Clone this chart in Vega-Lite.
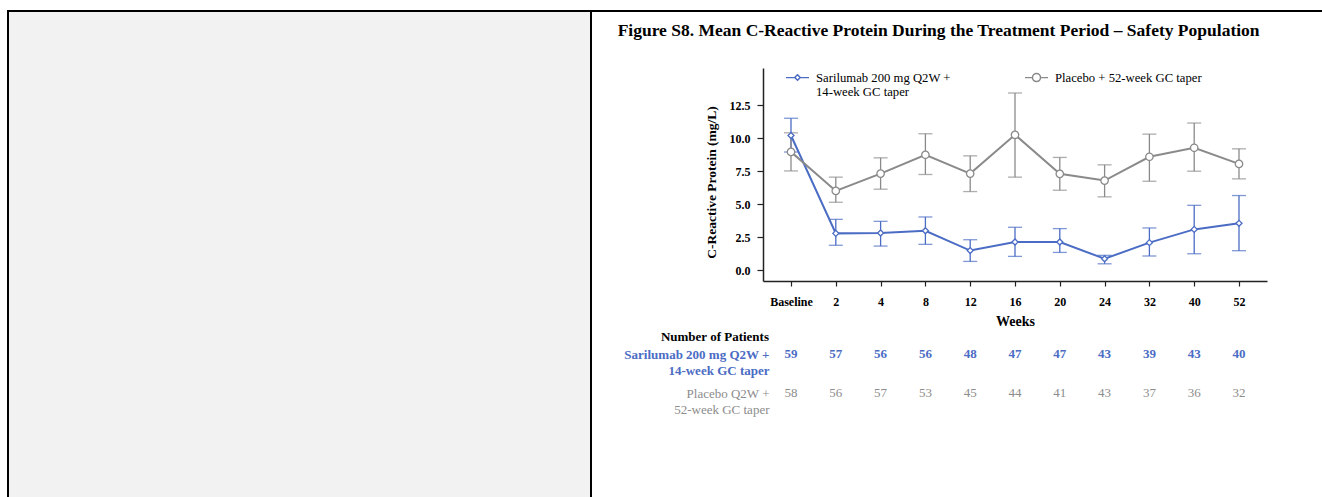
{
  "$schema": "https://vega.github.io/schema/vega-lite/v6.json",
  "padding": {"left": 7, "top": 10, "right": 0, "bottom": 0},
  "background": "white",
  "config": {
    "font": "Liberation Serif",
    "view": {"stroke": null},
    "concat": {"spacing": 0}
  },
  "datasets": {
    "crp": [
      {"visit": "Baseline", "group": "Sarilumab 200 mg Q2W +|14-week GC taper", "mean": 10.2, "lo": 8.95, "hi": 11.5},
      {"visit": "2", "group": "Sarilumab 200 mg Q2W +|14-week GC taper", "mean": 2.8, "lo": 1.9, "hi": 3.86},
      {"visit": "4", "group": "Sarilumab 200 mg Q2W +|14-week GC taper", "mean": 2.83, "lo": 1.84, "hi": 3.71},
      {"visit": "8", "group": "Sarilumab 200 mg Q2W +|14-week GC taper", "mean": 3.0, "lo": 1.97, "hi": 4.04},
      {"visit": "12", "group": "Sarilumab 200 mg Q2W +|14-week GC taper", "mean": 1.5, "lo": 0.68, "hi": 2.32},
      {"visit": "16", "group": "Sarilumab 200 mg Q2W +|14-week GC taper", "mean": 2.15, "lo": 1.06, "hi": 3.26},
      {"visit": "20", "group": "Sarilumab 200 mg Q2W +|14-week GC taper", "mean": 2.15, "lo": 1.36, "hi": 3.16},
      {"visit": "24", "group": "Sarilumab 200 mg Q2W +|14-week GC taper", "mean": 0.88, "lo": 0.5, "hi": 1.14},
      {"visit": "32", "group": "Sarilumab 200 mg Q2W +|14-week GC taper", "mean": 2.1, "lo": 1.09, "hi": 3.21},
      {"visit": "40", "group": "Sarilumab 200 mg Q2W +|14-week GC taper", "mean": 3.1, "lo": 1.26, "hi": 4.92},
      {"visit": "52", "group": "Sarilumab 200 mg Q2W +|14-week GC taper", "mean": 3.56, "lo": 1.49, "hi": 5.66},
      {"visit": "Baseline", "group": "Placebo + 52-week GC taper", "mean": 8.96, "lo": 7.52, "hi": 10.4},
      {"visit": "2", "group": "Placebo + 52-week GC taper", "mean": 6.01, "lo": 5.15, "hi": 7.05},
      {"visit": "4", "group": "Placebo + 52-week GC taper", "mean": 7.32, "lo": 6.14, "hi": 8.51},
      {"visit": "8", "group": "Placebo + 52-week GC taper", "mean": 8.74, "lo": 7.25, "hi": 10.33},
      {"visit": "12", "group": "Placebo + 52-week GC taper", "mean": 7.32, "lo": 5.96, "hi": 8.66},
      {"visit": "16", "group": "Placebo + 52-week GC taper", "mean": 10.25, "lo": 7.05, "hi": 13.41},
      {"visit": "20", "group": "Placebo + 52-week GC taper", "mean": 7.3, "lo": 6.06, "hi": 8.54},
      {"visit": "24", "group": "Placebo + 52-week GC taper", "mean": 6.79, "lo": 5.56, "hi": 7.98},
      {"visit": "32", "group": "Placebo + 52-week GC taper", "mean": 8.59, "lo": 6.74, "hi": 10.3},
      {"visit": "40", "group": "Placebo + 52-week GC taper", "mean": 9.27, "lo": 7.5, "hi": 11.14},
      {"visit": "52", "group": "Placebo + 52-week GC taper", "mean": 8.05, "lo": 6.92, "hi": 9.19}
    ],
    "npat": [
      {"visit": "Baseline", "arm": "Sarilumab 200 mg Q2W +|14-week GC taper", "n": 59},
      {"visit": "2", "arm": "Sarilumab 200 mg Q2W +|14-week GC taper", "n": 57},
      {"visit": "4", "arm": "Sarilumab 200 mg Q2W +|14-week GC taper", "n": 56},
      {"visit": "8", "arm": "Sarilumab 200 mg Q2W +|14-week GC taper", "n": 56},
      {"visit": "12", "arm": "Sarilumab 200 mg Q2W +|14-week GC taper", "n": 48},
      {"visit": "16", "arm": "Sarilumab 200 mg Q2W +|14-week GC taper", "n": 47},
      {"visit": "20", "arm": "Sarilumab 200 mg Q2W +|14-week GC taper", "n": 47},
      {"visit": "24", "arm": "Sarilumab 200 mg Q2W +|14-week GC taper", "n": 43},
      {"visit": "32", "arm": "Sarilumab 200 mg Q2W +|14-week GC taper", "n": 39},
      {"visit": "40", "arm": "Sarilumab 200 mg Q2W +|14-week GC taper", "n": 43},
      {"visit": "52", "arm": "Sarilumab 200 mg Q2W +|14-week GC taper", "n": 40},
      {"visit": "Baseline", "arm": "Placebo Q2W +|52-week GC taper", "n": 58},
      {"visit": "2", "arm": "Placebo Q2W +|52-week GC taper", "n": 56},
      {"visit": "4", "arm": "Placebo Q2W +|52-week GC taper", "n": 57},
      {"visit": "8", "arm": "Placebo Q2W +|52-week GC taper", "n": 53},
      {"visit": "12", "arm": "Placebo Q2W +|52-week GC taper", "n": 45},
      {"visit": "16", "arm": "Placebo Q2W +|52-week GC taper", "n": 44},
      {"visit": "20", "arm": "Placebo Q2W +|52-week GC taper", "n": 41},
      {"visit": "24", "arm": "Placebo Q2W +|52-week GC taper", "n": 43},
      {"visit": "32", "arm": "Placebo Q2W +|52-week GC taper", "n": 37},
      {"visit": "40", "arm": "Placebo Q2W +|52-week GC taper", "n": 36},
      {"visit": "52", "arm": "Placebo Q2W +|52-week GC taper", "n": 32}
    ]
  },
  "vconcat": [
    {"width": 1315, "height": 2, "data": {"values": []}, "mark": "point", "view": {"fill": "black", "stroke": null}},
    {
      "hconcat": [
        {
          "hconcat": [
            {"width": 2, "height": 485, "data": {"values": []}, "mark": "point", "view": {"fill": "black", "stroke": null}},
            {"width": 581, "height": 485, "data": {"values": []}, "mark": "point", "view": {"fill": "#f2f2f2", "stroke": null}},
            {"width": 2, "height": 485, "data": {"values": []}, "mark": "point", "view": {"fill": "black", "stroke": null}}
          ],
          "spacing": 0
        },
        {
          "vconcat": [
            {"width": 1, "height": 1, "data": {"values": []}, "mark": "point"},
            {
              "title": {"text": "Figure S8. Mean C-Reactive Protein During the Treatment Period – Safety Population", "anchor": "start", "fontSize": 17.5, "fontWeight": "bold", "font": "Liberation Serif", "color": "black", "dx": -6, "offset": 29},
              "vconcat": [
                {
                  "width": 504,
                  "height": 213,
                  "data": {"name": "crp"},
                  "encoding": {
                    "x": {"field": "visit", "type": "nominal", "sort": ["Baseline", "2", "4", "8", "12", "16", "20", "24", "32", "40", "52"], "scale": {"type": "point", "padding": 0.625}, "title": "Weeks",
                      "axis": {"labelAngle": 0, "labelFontWeight": "bold", "labelFontSize": 12, "labelColor": "black", "tickColor": "#222", "domainColor": "#222", "domainWidth": 1.5, "tickSize": 5, "tickWidth": 1.2, "labelPadding": 10, "titleFontSize": 14, "titleFontWeight": "bold", "titleColor": "black", "titlePadding": 7}}
                  },
                  "layer": [
                    {
                      "mark": {"type": "rule", "strokeWidth": 1.3},
                      "encoding": {
                        "y": {"field": "lo", "type": "quantitative", "title": "C-Reactive Protein (mg/L)", "scale": {"domain": [-0.8, 15.3], "nice": false, "zero": false},
                          "axis": {"values": [0, 2.5, 5, 7.5, 10, 12.5], "format": ".1f", "grid": false, "labelFontWeight": "bold", "labelFontSize": 12, "labelColor": "black", "tickColor": "#222", "domainColor": "#222", "domainWidth": 1.5, "tickSize": 6, "tickWidth": 1.2, "labelPadding": 7, "titleFontSize": 13.5, "titleFontWeight": "bold", "titleColor": "black", "titlePadding": 11, "titleY": 114}},
                        "y2": {"field": "hi"},
                        "color": {"field": "group", "type": "nominal", "scale": {"domain": ["Sarilumab 200 mg Q2W +|14-week GC taper", "Placebo + 52-week GC taper"], "range": ["#4b6cc4", "#8a8a8a"]},
                          "legend": {"title": null, "orient": "none", "legendX": 778, "legendY": 55, "direction": "horizontal", "columnPadding": 71, "labelExpr": "indexof(datum.label, '|') >= 0 ? split(datum.label, '|') : [datum.label, ' ']", "labelFontSize": 12.7, "labelFont": "Liberation Serif", "labelColor": "black", "labelLimit": 300, "labelOffset": 6, "symbolSize": 529, "symbolStrokeWidth": 1.3,
                            "encode": {"symbols": {
                              "update": {"shape": {"signal": "indexof(datum.value, 'Sarilumab') >= 0 ? 'M-1,0H-0.25M0.25,0H1M-0.25,0L0,-0.25L0.25,0L0,0.25ZM-0.23,0L0,0.23L0.23,0L0,-0.23Z' : 'M-1,0H-0.36M0.36,0H1M0.36,0A0.36,0.36,0,1,1,-0.36,0A0.36,0.36,0,1,1,0.36,0ZM0.34,0A0.34,0.34,0,1,0,-0.34,0A0.34,0.34,0,1,0,0.34,0Z'"}, "strokeWidth": {"value": 1.3}}}}}}
                      }
                    },
                    {
                      "mark": {"type": "tick", "thickness": 1.3, "size": 14},
                      "encoding": {"y": {"field": "lo", "type": "quantitative", "title": "C-Reactive Protein (mg/L)"}, "color": {"field": "group", "type": "nominal"}}
                    },
                    {
                      "mark": {"type": "tick", "thickness": 1.3, "size": 14},
                      "encoding": {"y": {"field": "hi", "type": "quantitative", "title": "C-Reactive Protein (mg/L)"}, "color": {"field": "group", "type": "nominal"}}
                    },
                    {
                      "mark": {"type": "line", "strokeWidth": 2},
                      "encoding": {"y": {"field": "mean", "type": "quantitative", "title": "C-Reactive Protein (mg/L)"}, "color": {"field": "group", "type": "nominal"}}
                    },
                    {
                      "transform": [{"filter": "indexof(datum.group, 'Sarilumab') >= 0"}],
                      "mark": {"type": "point", "shape": "diamond", "size": 36, "fill": "white", "stroke": "#4b6cc4", "strokeWidth": 1.3, "opacity": 1},
                      "encoding": {"y": {"field": "mean", "type": "quantitative", "title": "C-Reactive Protein (mg/L)"}}
                    },
                    {
                      "transform": [{"filter": "indexof(datum.group, 'Placebo') >= 0"}],
                      "mark": {"type": "point", "shape": "circle", "size": 55, "fill": "white", "stroke": "#8a8a8a", "strokeWidth": 1.3, "opacity": 1},
                      "encoding": {"y": {"field": "mean", "type": "quantitative", "title": "C-Reactive Protein (mg/L)"}}
                    }
                  ]
                },
                {
                  "width": 504,
                  "height": 39,
                  "data": {"name": "npat"},
                  "title": {"text": "Number of Patients", "anchor": "start", "frame": "group", "align": "right", "dx": 6, "fontSize": 13, "font": "Liberation Serif", "fontWeight": "bold", "color": "black", "baseline": "alphabetic", "offset": -6},
                  "encoding": {
                    "x": {"field": "visit", "type": "nominal", "sort": ["Baseline", "2", "4", "8", "12", "16", "20", "24", "32", "40", "52"], "scale": {"type": "point", "padding": 0.625}, "axis": null},
                    "y": {"field": "arm", "type": "nominal", "sort": ["Sarilumab 200 mg Q2W +|14-week GC taper", "Placebo Q2W +|52-week GC taper"], "scale": {"type": "point", "padding": 0}, "title": null,
                      "axis": {"domain": false, "ticks": false, "tickSize": 0, "labelPadding": -6, "labelExpr": "split(datum.label, '|')", "labelBaseline": "alphabetic", "labelLineHeight": 16.5, "labelFontSize": 13, "labelFont": "Liberation Serif", "labelLimit": 300,
                        "labelColor": {"condition": {"test": "indexof(datum.value, 'Sarilumab') >= 0", "value": "#4b6cc4"}, "value": "#8c8c8c"},
                        "labelFontWeight": {"condition": {"test": "indexof(datum.value, 'Sarilumab') >= 0", "value": "bold"}, "value": "normal"}}}
                  },
                  "layer": [
                    {
                      "transform": [{"filter": "indexof(datum.arm, 'Sarilumab') >= 0"}],
                      "mark": {"type": "text", "fontSize": 13, "fontWeight": "bold", "color": "#4b6cc4", "baseline": "alphabetic"},
                      "encoding": {"text": {"field": "n", "type": "quantitative"}}
                    },
                    {
                      "transform": [{"filter": "indexof(datum.arm, 'Placebo') >= 0"}],
                      "mark": {"type": "text", "fontSize": 13, "fontWeight": "normal", "color": "#8c8c8c", "baseline": "alphabetic"},
                      "encoding": {"text": {"field": "n", "type": "quantitative"}}
                    }
                  ]
                }
              ],
              "spacing": 3
            }
          ],
          "spacing": 8
        }
      ],
      "spacing": 25
    }
  ],
  "spacing": 0
}
